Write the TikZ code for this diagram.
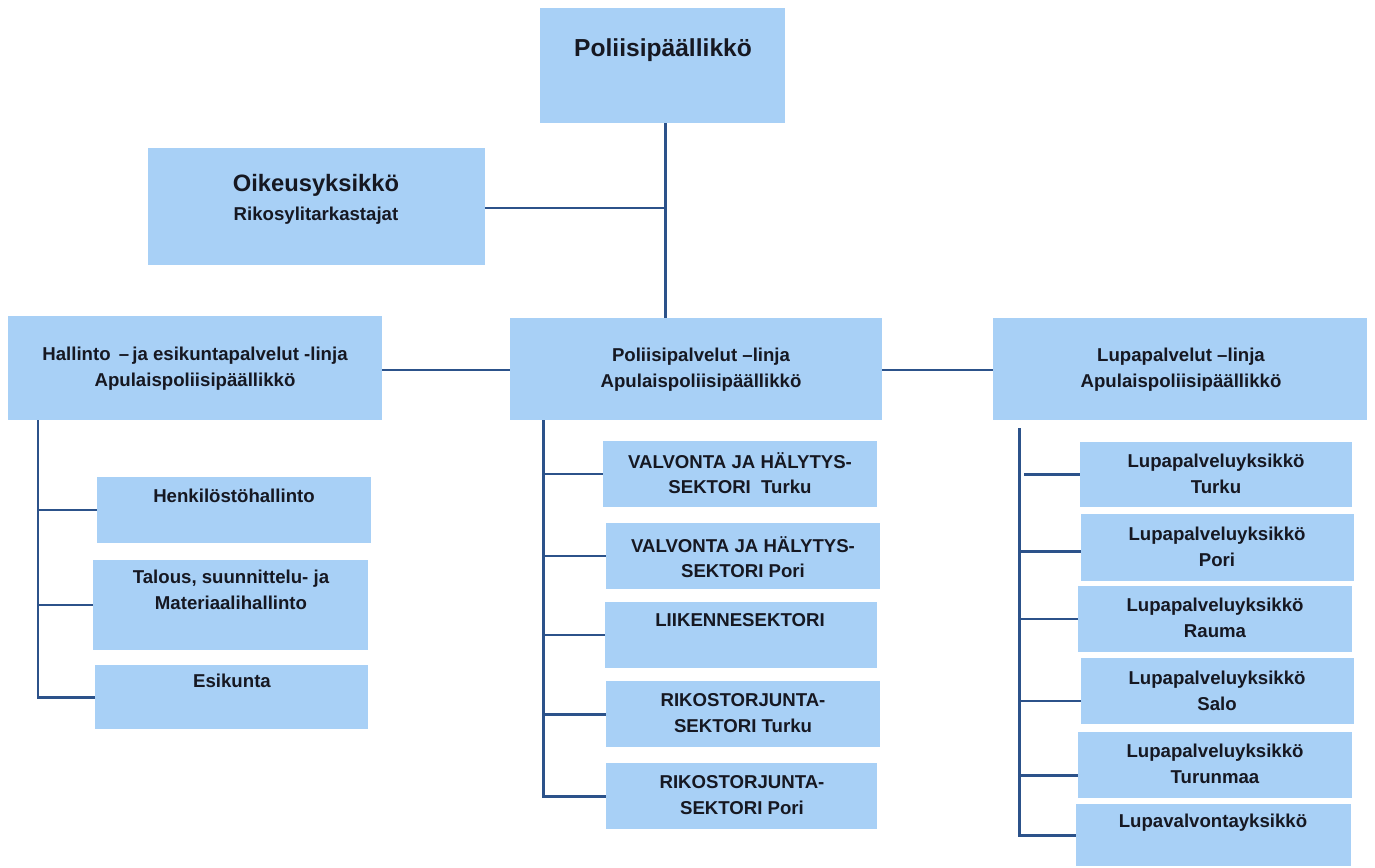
\documentclass[tikz,border=0pt]{standalone}
\usepackage{fontspec}
\setmainfont{Liberation Sans}
\usetikzlibrary{fit}
\definecolor{boxblue}{RGB}{168,208,246}
\definecolor{lineblue}{RGB}{44,82,138}
\definecolor{textc}{RGB}{22,24,34}
\tikzset{
  box/.style={fill=boxblue, draw=none, inner sep=0pt, rectangle},
  conn/.style={draw=lineblue, line width=1.7pt},
  txt/.style={font=\bfseries\fontsize{10.6}{14.6}\selectfont, text=textc, align=center, inner sep=0pt},
  bigtxt/.style={font=\bfseries\fontsize{14}{18}\selectfont, text=textc, align=center, inner sep=0pt}
}
\begin{document}
\begin{tikzpicture}[x=0.02cm, y=-0.02cm]
\useasboundingbox (0,0) rectangle (1375,868);
% boxes
\node[box, fit={(540,8)(785,123)}] (top) {};
\node[box, fit={(148,148)(485,265)}] (oik) {};
\node[box, fit={(8,316)(382,420)}] (hal) {};
\node[box, fit={(510,318)(882,420)}] (pp) {};
\node[box, fit={(993,318)(1367,420)}] (lupa) {};
\node[box, fit={(97,477)(371,543)}] (l1) {};
\node[box, fit={(93,560)(368,650)}] (l2) {};
\node[box, fit={(95,665)(368,729)}] (l3) {};
\node[box, fit={(603,441)(877,507)}] (m1) {};
\node[box, fit={(606,523)(880,589)}] (m2) {};
\node[box, fit={(605,602)(877,668)}] (m3) {};
\node[box, fit={(606,681)(880,747)}] (m4) {};
\node[box, fit={(606,763)(877,829)}] (m5) {};
\node[box, fit={(1080,442)(1352,507)}] (r1) {};
\node[box, fit={(1081,514)(1354,581)}] (r2) {};
\node[box, fit={(1078,586)(1352,652)}] (r3) {};
\node[box, fit={(1081,658)(1354,724)}] (r4) {};
\node[box, fit={(1078,732)(1352,798)}] (r5) {};
\node[box, fit={(1076,804)(1351,866)}] (r6) {};
% texts
\node[bigtxt] (ttop) at (663,50) {Poliisipäällikkö};
\node[txt] (toik) at (316,199) {{\fontsize{13.5}{17}\selectfont Oikeusyksikkö}\\[2pt]Rikosylitarkastajat};
\node[txt] (thal) at (195,369) {Hallinto \,–\,ja esikuntapalvelut -linja\\Apulaispoliisipäällikkö};
\node[txt] (tpp) at (701,370) {Poliisipalvelut –linja\\Apulaispoliisipäällikkö};
\node[txt] (tlupa) at (1181,370) {Lupapalvelut –linja\\Apulaispoliisipäällikkö};
\node[txt] (tl1) at (234,496) {Henkilöstöhallinto};
\node[txt] (tl2) at (231,590) {Talous, suunnittelu- ja\\Materiaalihallinto};
\node[txt] (tl3) at (232,681) {Esikunta};
\node[txt] (tm1) at (740,473) {VALVONTA JA HÄLYTYS-\\SEKTORI \ Turku};
\node[txt] (tm2) at (743,557) {VALVONTA JA HÄLYTYS-\\SEKTORI Pori};
\node[txt] (tm3) at (740,620) {LIIKENNESEKTORI};
\node[txt] (tm4) at (743,713) {RIKOSTORJUNTA-\\SEKTORI Turku};
\node[txt] (tm5) at (742,795) {RIKOSTORJUNTA-\\SEKTORI Pori};
\node[txt] (tr1) at (1216,474) {Lupapalveluyksikkö\\Turku};
\node[txt] (tr2) at (1217,547) {Lupapalveluyksikkö\\Pori};
\node[txt] (tr3) at (1215,618) {Lupapalveluyksikkö\\Rauma};
\node[txt] (tr4) at (1217,691) {Lupapalveluyksikkö\\Salo};
\node[txt] (tr5) at (1215,764) {Lupapalveluyksikkö\\Turunmaa};
\node[txt] (tr6) at (1213,823) {Lupavalvontayksikkö};
% connectors
\coordinate (jt) at (665,208);
\coordinate (lv) at (38,420);
\coordinate (mv) at (543,420);
\coordinate (rv) at (1019,428);
\draw[conn] (top.south -| jt) -- (pp.north -| jt);
\draw[conn] (oik.east |- jt) -- (jt);
\draw[conn] (hal.east |- 0,370) -- (pp.west |- 0,370);
\draw[conn] (pp.east |- 0,370) -- (lupa.west |- 0,370);
% left tree
\draw[conn] (lv) |- (l3.west);
\draw[conn] (lv |- l1.west) -- (l1.west);
\draw[conn] (lv |- l2.west) -- (l2.west);
% middle tree
\draw[conn] (mv) |- (m5.west);
\draw[conn] (mv |- m1.west) -- (m1.west);
\draw[conn] (mv |- m2.west) -- (m2.west);
\draw[conn] (mv |- m3.west) -- (m3.west);
\draw[conn] (mv |- m4.west) -- (m4.west);
% right tree
\draw[conn] (rv) |- (r6.west);
\draw[conn] ([xshift=0.1cm]rv |- r1.west) -- (r1.west);
\draw[conn] ([yshift=-0.08cm]rv |- r2.west) -- ([yshift=-0.08cm]r2.west);
\draw[conn] (rv |- r3.west) -- (r3.west);
\draw[conn] ([yshift=-0.2cm]rv |- r4.west) -- ([yshift=-0.2cm]r4.west);
\draw[conn] ([yshift=-0.2cm]rv |- r5.west) -- ([yshift=-0.2cm]r5.west);
\end{tikzpicture}
\end{document}
